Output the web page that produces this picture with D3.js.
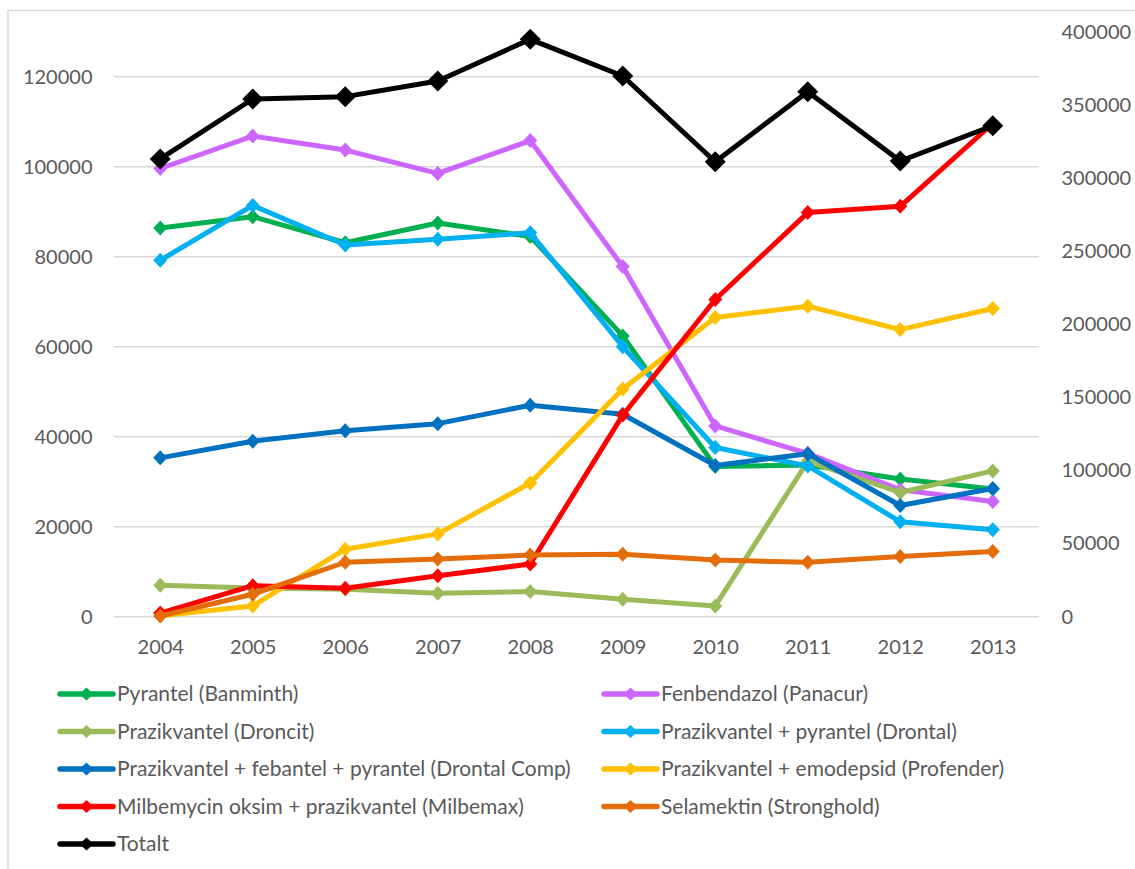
<!DOCTYPE html>
<html>
<head>
<meta charset="utf-8">
<script src="https://cdn.jsdelivr.net/npm/d3@7"></script>
<style>
  html, body { margin: 0; padding: 0; background: #fff; }
  svg { display: block; }
  text { font-family: Lato, "Open Sans", sans-serif; fill: #595959; }
</style>
</head>
<body>
<svg id="chart" width="1135" height="869"></svg>
<script>
const years = ["2004","2005","2006","2007","2008","2009","2010","2011","2012","2013"];

const seriesNames = [
  "Pyrantel (Banminth)",
  "Fenbendazol (Panacur)",
  "Prazikvantel (Droncit)",
  "Prazikvantel + pyrantel (Drontal)",
  "Prazikvantel + febantel + pyrantel (Drontal Comp)",
  "Prazikvantel + emodepsid (Profender)",
  "Milbemycin oksim + prazikvantel (Milbemax)",
  "Selamektin (Stronghold)",
  "Totalt"
];
const seriesColors = ["#00B050","#CC66FF","#9BBB59","#00B0F0","#0070C0","#FFC000","#FF0000","#E46C0A","#000000"];

const pyrantel     = [86400, 88900, 83100, 87500, 84500, 62400, 33400, 33700, 30600, 28400];
const fenbendazol  = [99600,106800,103700, 98500,105800, 77800, 42400, 36300, 28200, 25600];
const droncit      = [ 7000,  6400,  6100,  5200,  5600,  3900,  2400, 34500, 27600, 32400];
const drontal      = [79200, 91400, 82600, 83900, 85300, 60000, 37600, 33500, 21100, 19300];
const drontalComp  = [35300, 39000, 41300, 42900, 47000, 45000, 33600, 36200, 24700, 28500];
const profender    = [  200,  2400, 15000, 18400, 29700, 50600, 66500, 69000, 63800, 68500];
const milbemax     = [  800,  6900,  6300,  9100, 11700, 44800, 70500, 89800, 91200,109600];
const stronghold   = [  150,  5000, 12100, 12800, 13700, 13900, 12600, 12100, 13400, 14500];
const totalt       = [313000,354000,355600,366300,394800,369700,311100,359000,311600,335700];

const seriesValues = [pyrantel, fenbendazol, droncit, drontal, drontalComp, profender, milbemax, stronghold, totalt];
const seriesAxis   = ["left","left","left","left","left","left","left","left","right"];

const leftTicks  = [0, 20000, 40000, 60000, 80000, 100000, 120000];
const rightTicks = [0, 50000, 100000, 150000, 200000, 250000, 300000, 350000, 400000];
const leftMax = 130000, rightMax = 400000;

const svg = d3.select("#chart");
const plot = {left: 114, right: 1039, top: 31.7, bottom: 616.7};
const fontAxis = 20, fontLegend = 21;

// chart border (cut off at right/bottom)
svg.append("rect").attr("x", 8).attr("y", 10.5).attr("width", 1200).attr("height", 1000)
  .attr("fill", "none").attr("stroke", "#D9D9D9").attr("stroke-width", 1.5);

const x = d3.scalePoint().domain(years).range([plot.left, plot.right]).padding(0.5);
const yL = d3.scaleLinear().domain([0, leftMax]).range([plot.bottom, plot.top]);
const yR = d3.scaleLinear().domain([0, rightMax]).range([plot.bottom, plot.top]);

// gridlines
svg.append("g").selectAll("line").data(leftTicks).join("line")
  .attr("x1", plot.left).attr("x2", plot.right)
  .attr("y1", d => yL(d)).attr("y2", d => yL(d))
  .attr("stroke", "#D9D9D9").attr("stroke-width", 1.5);

// left axis
const gL = svg.append("g").attr("transform", `translate(${plot.left - 21.5},0)`)
  .call(d3.axisLeft(yL).tickValues(leftTicks).tickFormat(d3.format("d")).tickSize(0).tickPadding(0));
gL.select(".domain").remove();
gL.selectAll("text").attr("font-size", fontAxis).style("fill", "#595959").attr("font-family", "Lato, sans-serif");

// right axis
const gR = svg.append("g").attr("transform", `translate(${plot.right + 22.5},0)`)
  .call(d3.axisRight(yR).tickValues(rightTicks).tickFormat(d3.format("d")).tickSize(0).tickPadding(0));
gR.select(".domain").remove();
gR.selectAll("text").attr("font-size", fontAxis).style("fill", "#595959").attr("font-family", "Lato, sans-serif");

// bottom axis
const gB = svg.append("g").attr("transform", `translate(0,${plot.bottom + 23})`)
  .call(d3.axisBottom(x).tickSize(0).tickPadding(0));
gB.select(".domain").remove();
gB.selectAll("text").attr("font-size", fontAxis).style("fill", "#595959").attr("font-family", "Lato, sans-serif");

function diamond(cx, cy, w, h) {
  return `M${cx},${cy - h}L${cx + w},${cy}L${cx},${cy + h}L${cx - w},${cy}Z`;
}

// series
seriesValues.forEach((vals, i) => {
  const yS = seriesAxis[i] === "right" ? yR : yL;
  const isTotal = seriesAxis[i] === "right";
  const g = svg.append("g");
  const line = d3.line().x((d, j) => x(years[j])).y(d => yS(d));
  g.append("path").datum(vals).attr("d", line)
    .attr("fill", "none").attr("stroke", seriesColors[i])
    .attr("stroke-width", 5).attr("stroke-linejoin", "round").attr("stroke-linecap", "round");
  g.selectAll("path.m").data(vals).join("path").attr("class", "m")
    .attr("d", (d, j) => isTotal ? diamond(x(years[j]), yS(d), 10.5, 10.5) : diamond(x(years[j]), yS(d), 7, 7.5))
    .attr("fill", seriesColors[i]);
});

// legend
const legendCols = [60, 604];
const legendRow0 = 694, legendRowStep = 37.5;
const lg = svg.append("g");
seriesNames.forEach((name, i) => {
  const col = i % 2, row = Math.floor(i / 2);
  const lx = legendCols[col], ly = legendRow0 + row * legendRowStep;
  lg.append("line").attr("x1", lx).attr("x2", lx + 53).attr("y1", ly).attr("y2", ly)
    .attr("stroke", seriesColors[i]).attr("stroke-width", 5.5).attr("stroke-linecap", "round");
  lg.append("path").attr("d", diamond(lx + 26.5, ly, 7, 6.5)).attr("fill", seriesColors[i]);
  lg.append("text").attr("x", lx + 57).attr("y", ly).attr("dy", "0.35em")
    .attr("font-size", fontLegend).text(name);
});
</script>
</body>
</html>
